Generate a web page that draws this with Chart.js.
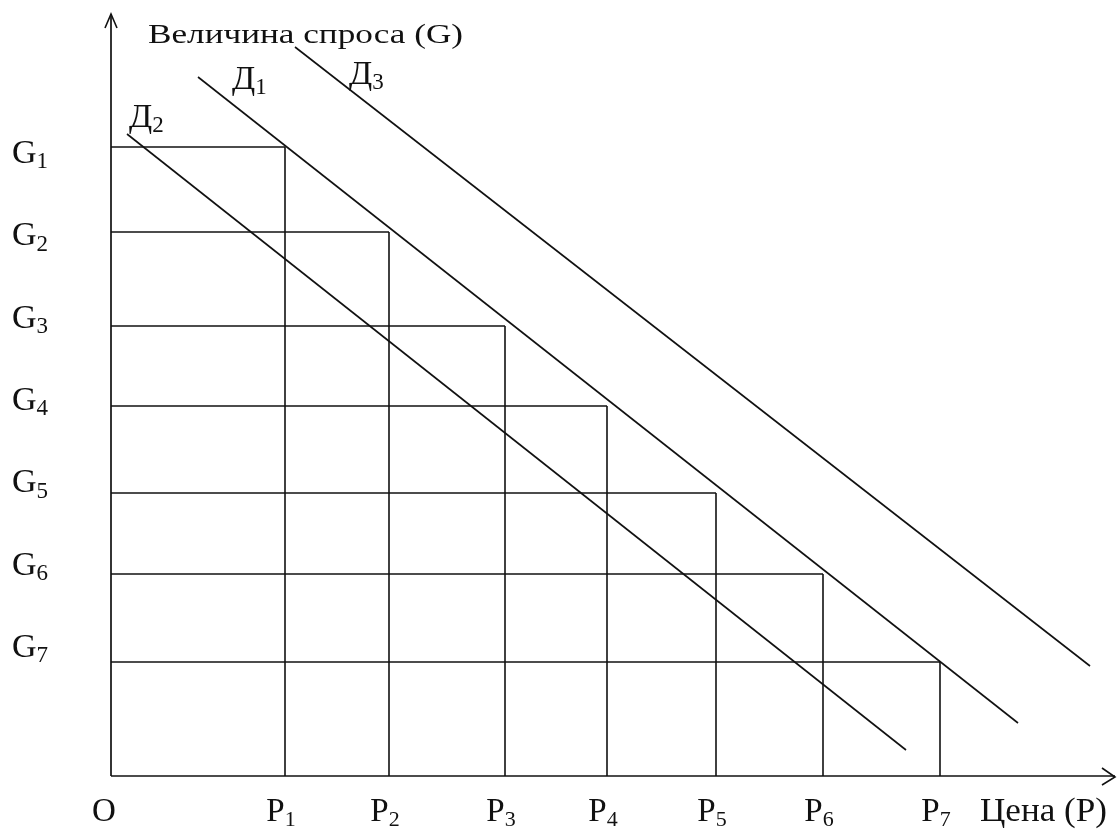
<!DOCTYPE html>
<html>
<head>
<meta charset="utf-8">
<script src="https://cdn.jsdelivr.net/npm/chart.js@4.4.1/dist/chart.umd.min.js"></script>
<style>
  html, body { margin: 0; padding: 0; background: #fff; }
  #wrap { width: 1117px; height: 829px; position: relative; }
</style>
</head>
<body>
<div id="wrap"><canvas id="demandChart"></canvas></div>
<script>
// Price levels P1..P7 and demand quantities G1..G7 (arbitrary units)
const priceLabels = ['P1', 'P2', 'P3', 'P4', 'P5', 'P6', 'P7'];
const priceValues = [17.4, 27.8, 39.4, 49.6, 60.5, 71.2, 82.9];
const qtyLabels = ['G1', 'G2', 'G3', 'G4', 'G5', 'G6', 'G7'];
const qtyValues = [62.9, 54.4, 45.0, 37.0, 28.3, 20.2, 11.4];

// Demand curves: [start point, end point]
const demandNames = ['Д1', 'Д2', 'Д3'];
const demand1 = [{ x: 8.7, y: 69.9 }, { x: 90.7, y: 5.3 }];
const demand2 = [{ x: 1.6, y: 64.2 }, { x: 79.5, y: 2.6 }];
const demand3 = [{ x: 18.4, y: 72.9 }, { x: 97.9, y: 11.0 }];

const axisTitleY = 'Величина спроса (G)';
const axisTitleX = 'Цена (P)';
const originLabel = 'O';

const ink = '#111';
const serif = "'Liberation Serif', 'Times New Roman', serif";

function seg(points, width) {
    return {
        data: points,
        showLine: true,
        borderColor: ink,
        borderWidth: width || 1.6,
        pointRadius: 0,
        fill: false,
        tension: 0
    };
}

const datasets = [];
// axes
datasets.push(seg([{ x: 0, y: 0 }, { x: 0, y: 76.2 }], 1.7));
datasets.push(seg([{ x: 0, y: 0 }, { x: 100.4, y: 0 }], 1.7));
// grid of price/quantity pairs
priceValues.forEach((p, i) => {
    datasets.push(seg([{ x: 0, y: qtyValues[i] }, { x: p, y: qtyValues[i] }]));
    datasets.push(seg([{ x: p, y: 0 }, { x: p, y: qtyValues[i] }]));
});
[demand1, demand2, demand3].forEach(d => datasets.push(seg(d)));

// text with subscript: "G1" -> G + small 1
function subText(ctx, x, y, text, size, align) {
    const main = text.slice(0, -1), sub = text.slice(-1);
    const subSize = Math.round(size * 0.68);
    ctx.font = size + 'px ' + serif;
    const w1 = ctx.measureText(main).width;
    ctx.font = subSize + 'px ' + serif;
    const w2 = ctx.measureText(sub).width;
    let left = x;
    if (align === 'center') left = x - (w1 + w2) / 2;
    ctx.textAlign = 'left';
    ctx.textBaseline = 'alphabetic';
    ctx.font = size + 'px ' + serif;
    ctx.fillText(main, left, y);
    ctx.font = subSize + 'px ' + serif;
    ctx.fillText(sub, left + w1, y + size * 0.16);
}

function fitText(ctx, x, y, text, size, width) {
    ctx.font = size + 'px ' + serif;
    const w = ctx.measureText(text).width;
    ctx.save();
    ctx.translate(x, y);
    ctx.scale(width / w, 1);
    ctx.textAlign = 'left';
    ctx.textBaseline = 'alphabetic';
    ctx.fillText(text, 0, 0);
    ctx.restore();
}

const labelsPlugin = {
    id: 'labelsPlugin',
    afterDatasetsDraw(chart) {
        const ctx = chart.ctx;
        const xs = chart.scales.x, ys = chart.scales.y;
        const ox = xs.getPixelForValue(0), oy = ys.getPixelForValue(0);
        ctx.save();
        ctx.strokeStyle = ink;
        ctx.fillStyle = ink;
        ctx.lineWidth = 1.6;

        // arrow heads
        const ty = ys.getPixelForValue(76.2);
        ctx.beginPath();
        ctx.moveTo(ox - 6, ty + 14); ctx.lineTo(ox, ty); ctx.lineTo(ox + 6, ty + 14);
        ctx.stroke();
        const tx = xs.getPixelForValue(100.4);
        ctx.beginPath();
        ctx.moveTo(tx - 13, oy - 8); ctx.lineTo(tx, oy + 1); ctx.lineTo(tx - 13, oy + 9);
        ctx.stroke();

        // quantity labels, evenly spaced down the left side
        const gTop = ys.getPixelForValue(qtyValues[0]) + 16;
        const gBot = ys.getPixelForValue(qtyValues[qtyValues.length - 1]) - 5;
        qtyLabels.forEach((t, i) => {
            const yy = gTop + i * (gBot - gTop) / (qtyLabels.length - 1);
            subText(ctx, 12, yy, t, 34, 'left');
        });

        // price labels
        const base = oy + 45;
        priceLabels.forEach((t, i) => {
            subText(ctx, xs.getPixelForValue(priceValues[i]) - 4, base, t, 33, 'center');
        });
        ctx.font = '33px ' + serif;
        ctx.textAlign = 'left';
        ctx.fillText(originLabel, ox - 19, base);
        fitText(ctx, 980, base, axisTitleX, 33, 127);
        fitText(ctx, ox + 37, ys.getPixelForValue(76.2) + 29, axisTitleY, 28, 315);

        // demand curve names near the upper end of each curve
        const starts = [demand1[0], demand2[0], demand3[0]];
        const offs = [[34, 12], [2, -7], [54, 37]];
        demandNames.forEach((t, i) => {
            const px = xs.getPixelForValue(starts[i].x) + offs[i][0];
            const py = ys.getPixelForValue(starts[i].y) + offs[i][1];
            subText(ctx, px, py, t, 34, 'left');
        });
        ctx.restore();
    }
};

new Chart(document.getElementById('demandChart').getContext('2d'), {
    type: 'scatter',
    data: { datasets: datasets },
    options: {
        responsive: true,
        maintainAspectRatio: false,
        animation: false,
        layout: { padding: 0 },
        plugins: { legend: { display: false }, tooltip: { enabled: false } },
        scales: {
            x: { type: 'linear', min: -11.1, max: 100.6, display: false },
            y: { type: 'linear', min: -5.3, max: 77.6, display: false }
        }
    },
    plugins: [labelsPlugin]
});
</script>
</body>
</html>
